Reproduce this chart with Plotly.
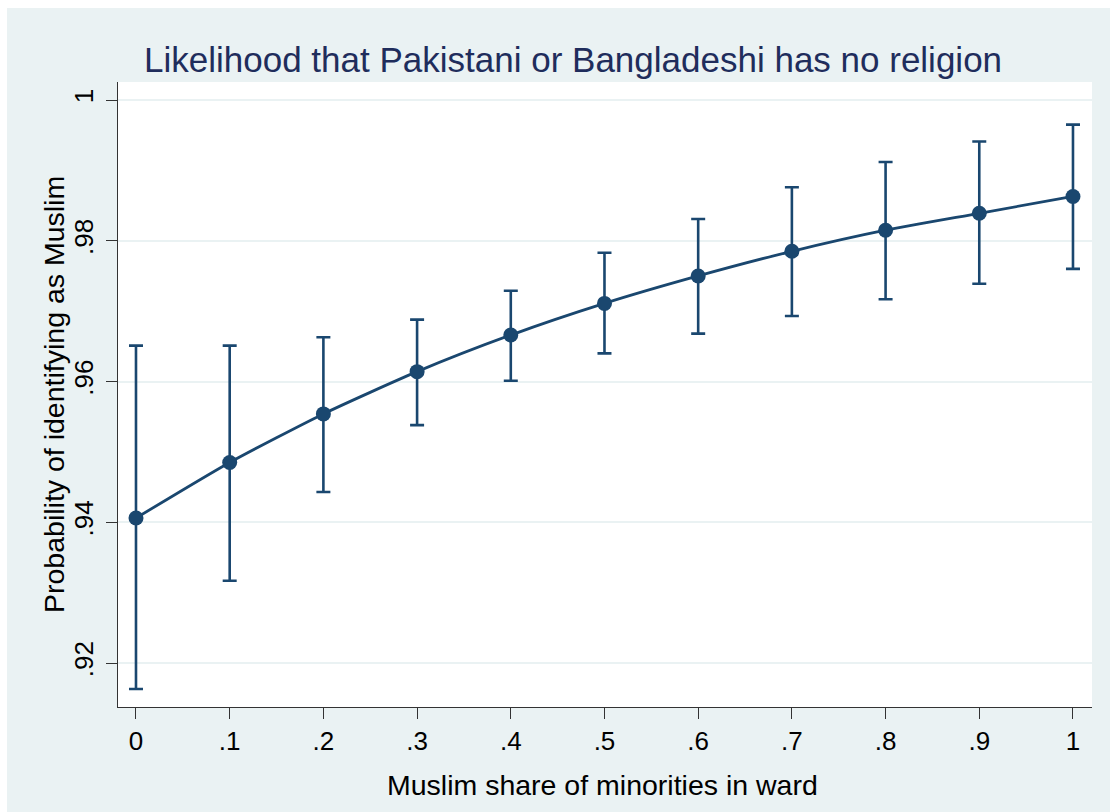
import plotly.graph_objects as go

# Predicted probability with confidence interval by Muslim share
share = [0.0, 0.1, 0.2, 0.3, 0.4, 0.5, 0.6, 0.7, 0.8, 0.9, 1.0]
prob = [0.9406, 0.9485, 0.9554, 0.9614, 0.9666, 0.9711, 0.9750, 0.9785, 0.9815, 0.9839, 0.9863]
ci_upper = [0.9651, 0.9651, 0.9663, 0.9688, 0.9729, 0.9783, 0.9831, 0.9876, 0.9912, 0.9941, 0.9965]
ci_lower = [0.9163, 0.9317, 0.9443, 0.9538, 0.9601, 0.9640, 0.9668, 0.9693, 0.9717, 0.9739, 0.9760]

x_tickvals = [0, 0.1, 0.2, 0.3, 0.4, 0.5, 0.6, 0.7, 0.8, 0.9, 1.0]
x_ticktext = ["0", ".1", ".2", ".3", ".4", ".5", ".6", ".7", ".8", ".9", "1"]
y_tickvals = [0.92, 0.94, 0.96, 0.98, 1.0]
y_ticktext = [".92", ".94", ".96", ".98", "1"]

NAVY = "#1A476F"
BG = "#EAF2F3"
FONT = "Liberation Sans, Arial, sans-serif"

err_plus = [u - p for u, p in zip(ci_upper, prob)]
err_minus = [p - l for p, l in zip(prob, ci_lower)]

fig = go.Figure()
fig.add_trace(go.Scatter(
    x=share, y=prob,
    mode="lines+markers",
    line=dict(color=NAVY, width=2.8, shape="spline", smoothing=0.6),
    marker=dict(color=NAVY, size=15),
    error_y=dict(type="data", symmetric=False, array=err_plus, arrayminus=err_minus,
                 color=NAVY, thickness=2.6, width=7),
    showlegend=False,
    hoverinfo="skip",
))

W, H = 1110, 812
L, R, T, B = 118, 18, 82, 105
pw, ph = W - L - R, H - T - B


def px_x(X):
    return (X - L) / pw


def px_y(Y):
    return (H - B - Y) / ph


fig.update_layout(
    width=W, height=H,
    margin=dict(l=L, r=R, t=T, b=B, pad=0),
    paper_bgcolor=BG,
    plot_bgcolor="white",
    font=dict(family=FONT, color="black"),
    xaxis=dict(
        range=[-0.0192, 1.0203],
        tickvals=x_tickvals, ticktext=x_ticktext,
        ticks="outside", ticklen=11, tickwidth=1.3, tickcolor="#333333",
        tickfont=dict(size=26, family=FONT, color="black"),
        showline=True, linecolor="#333333", linewidth=1.3,
        showgrid=False, zeroline=False,
    ),
    yaxis=dict(
        range=[0.91375, 1.00256],
        tickvals=y_tickvals, ticktext=y_ticktext,
        tickangle=-90,
        ticks="outside", ticklen=11, tickwidth=1.3, tickcolor="#333333",
        tickfont=dict(size=26, family=FONT, color="black"),
        ticklabelstandoff=2,
        showline=True, linecolor="#333333", linewidth=1.3,
        showgrid=True, gridcolor=BG, gridwidth=1.6,
        zeroline=False,
    ),
    annotations=[
        dict(text="Likelihood that Pakistani or Bangladeshi has no religion",
             xref="paper", yref="paper", x=px_x(573), y=px_y(59),
             xanchor="center", yanchor="middle", showarrow=False,
             font=dict(size=35, family=FONT, color="#1F2D5C")),
        dict(text="Muslim share of minorities in ward",
             xref="paper", yref="paper", x=px_x(602), y=px_y(785),
             xanchor="center", yanchor="middle", showarrow=False,
             font=dict(size=28.5, family=FONT, color="black")),
        dict(text="Probability of identifying as Muslim",
             xref="paper", yref="paper", x=px_x(54), y=px_y(395),
             xanchor="center", yanchor="middle", showarrow=False, textangle=-90,
             font=dict(size=28.5, family=FONT, color="black")),
    ],
    shapes=[
        dict(type="rect", xref="paper", yref="paper",
             x0=px_x(-2), x1=px_x(7), y0=px_y(H + 2), y1=px_y(-2),
             fillcolor="white", line=dict(width=0), layer="above"),
        dict(type="rect", xref="paper", yref="paper",
             x0=px_x(-2), x1=px_x(W + 2), y0=px_y(8), y1=px_y(-2),
             fillcolor="white", line=dict(width=0), layer="above"),
    ],
)

fig.write_html("out.html")
